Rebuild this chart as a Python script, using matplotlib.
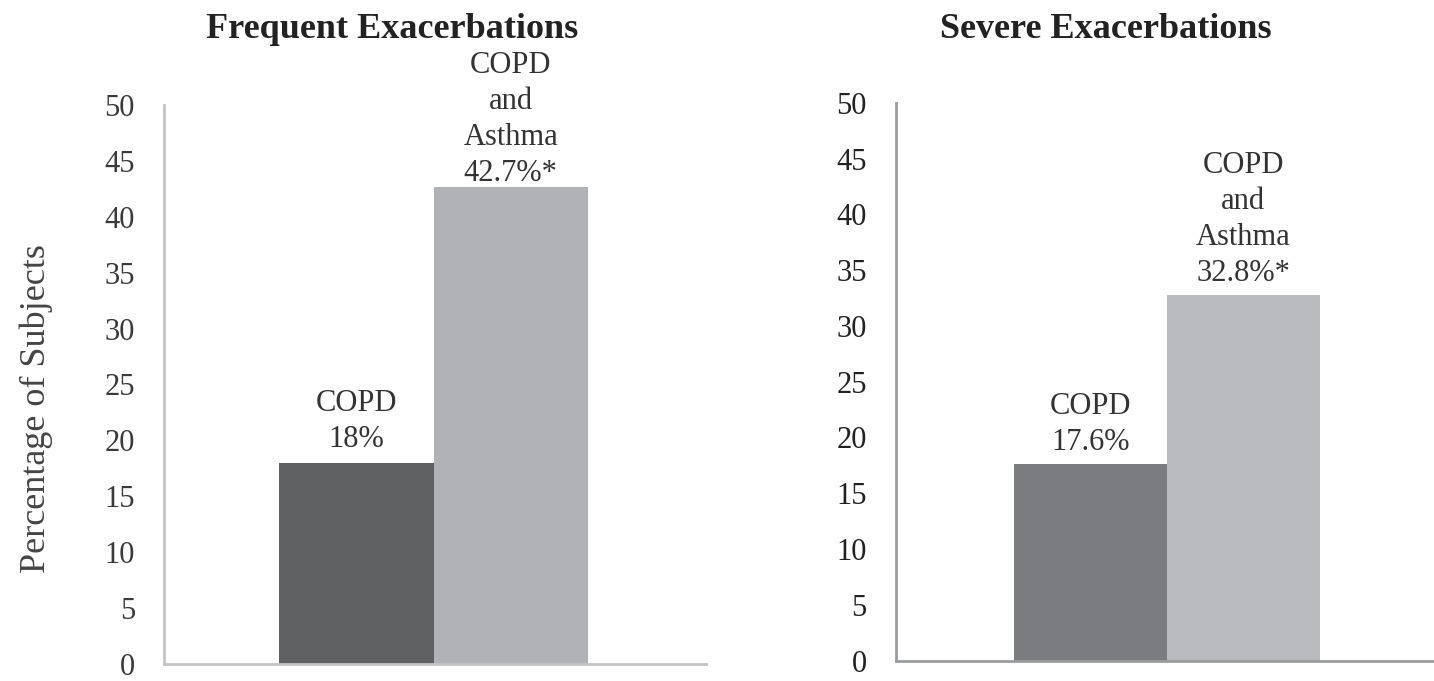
import matplotlib.pyplot as plt

# bar values (percentage of subjects)
groups = ["COPD", "COPD\nand\nAsthma"]
frequent = [18, 42.7]
severe = [17.6, 32.8]
frequent_labels = ["18%", "42.7%*"]
severe_labels = ["17.6%", "32.8%*"]
yticks = list(range(0, 55, 5))

plt.rcParams['font.family'] = ['Liberation Serif', 'DejaVu Serif']

fig = plt.figure(figsize=(14.34, 6.81), dpi=100)

panels = [
    # axes rect, xlim, colours, spine colour, tick colour, label offsets (pt)
    dict(rect=[0.1144, 0.0250, 0.378, 0.821], xlim=(-1.244, 2.264),
         vals=frequent, labels=frequent_labels,
         colors=["#5e6062", "#b1b2b5"], spine="#c4c4c4", tick="#3a3a3a",
         offs=[6.5, -1]),
    dict(rect=[0.6248, 0.0300, 0.3745, 0.819], xlim=(-1.271, 2.239),
         vals=severe, labels=severe_labels,
         colors=["#7a7c80", "#b9bbbf"], spine="#9a9c9e", tick="#222222",
         offs=[5, 5]),
]

for p in panels:
    ax = fig.add_axes(p["rect"])
    x = list(range(len(groups)))
    ax.bar(x, p["vals"], width=1.0, color=p["colors"], edgecolor="none")
    ax.set_xlim(*p["xlim"])
    ax.set_ylim(0, 50)
    ax.set_yticks(yticks)
    ax.set_xticks([])
    ax.tick_params(axis='y', length=0, pad=21, labelsize=22,
                   labelcolor=p["tick"])
    for s in ["top", "right"]:
        ax.spines[s].set_visible(False)
    for s in ["left", "bottom"]:
        ax.spines[s].set_color(p["spine"])
        ax.spines[s].set_linewidth(2)
    for xi, v, g, lab, off in zip(x, p["vals"], groups, p["labels"], p["offs"]):
        ax.annotate(g + "\n" + lab, (xi, v), xytext=(0, off),
                    textcoords="offset points", ha="center", va="bottom",
                    fontsize=22, color="#333333", linespacing=1.32)

fig.text(0.2734, 0.957, "Frequent Exacerbations", ha="center", va="center",
         fontsize=26, fontweight="bold", color="#222222")
fig.text(0.7713, 0.957, "Severe Exacerbations", ha="center", va="center",
         fontsize=26, fontweight="bold", color="#222222")
fig.text(0.025, 0.40, "Percentage of Subjects", rotation=90, ha="center",
         va="center", fontsize=26, color="#444444")

fig.savefig("out.png", dpi=100)
